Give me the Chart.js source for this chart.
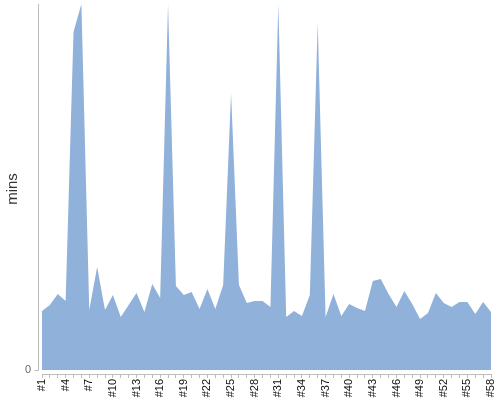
<!DOCTYPE html>
<html>
<head>
<meta charset="utf-8">
<script src="https://cdn.jsdelivr.net/npm/chart.js@4/dist/chart.umd.min.js"></script>
<style>
  html, body { margin: 0; padding: 0; background: #fff; }
  #wrap { width: 500px; height: 400px; }
</style>
</head>
<body>
<div id="wrap"><canvas id="minsChart"></canvas></div>
<script>
const runLabels = [
    '#1', '#2', '#3', '#4', '#5', '#6', '#7', '#8', '#9', '#10',
    '#11', '#12', '#13', '#14', '#15', '#16', '#17', '#18', '#19', '#20',
    '#21', '#22', '#23', '#24', '#25', '#26', '#27', '#28', '#29', '#30',
    '#31', '#32', '#33', '#34', '#35', '#36', '#37', '#38', '#39', '#40',
    '#41', '#42', '#43', '#44', '#45', '#46', '#47', '#48', '#49', '#50',
    '#51', '#52', '#53', '#54', '#55', '#56', '#57', '#58',
];

const minsValues = [
    29.5, 32.5, 38, 34.5, 169, 183, 30, 51.5, 30, 37.5,
    26.5, 32.5, 38.5, 29, 43, 36, 183, 42, 37.5, 39,
    30.5, 40.5, 30.5, 42.5, 138.5, 42.5, 33.5, 34.5, 34.5, 31.5,
    183, 26.5, 29.5, 27, 37.5, 173.5, 26.5, 38, 27, 33,
    31, 29.5, 44.5, 45.5, 38, 31.5, 39.5, 33, 25.5, 28.5,
    38.5, 33.5, 31.5, 34, 34, 28, 34, 29,
];

const yTickValues = [0];
const yTitle = 'mins';

const FONT = '"Liberation Sans", Arial, sans-serif';
const AXIS_GREY = '#bdbdbd';

// y axis line sits a few px left of the first point, drawn by hand
const yAxisLine = {
    id: 'yAxisLine',
    afterDraw(chart) {
        const { ctx, chartArea } = chart;
        const y0 = Math.round(chart.scales.y.getPixelForValue(0)) + 0.5;
        const x = Math.round(chartArea.left - 4) + 0.5;
        ctx.save();
        ctx.strokeStyle = AXIS_GREY;
        ctx.lineWidth = 1;
        ctx.beginPath();
        ctx.moveTo(x, chartArea.top);
        ctx.lineTo(x, y0);
        ctx.moveTo(x - 4, y0);
        ctx.lineTo(x, y0);
        ctx.stroke();
        ctx.restore();
    },
};

new Chart(document.getElementById('minsChart').getContext('2d'), {
    type: 'line',
    data: {
        labels: runLabels,
        datasets: [{
            data: minsValues,
            fill: 'origin',
            backgroundColor: 'rgb(143, 177, 218)',
            borderWidth: 0,
            pointRadius: 0,
            tension: 0,
        }],
    },
    options: {
        responsive: true,
        maintainAspectRatio: false,
        animation: false,
        layout: { padding: { top: 4, right: 9, left: 0, bottom: 0 } },
        plugins: {
            legend: { display: false },
            tooltip: { enabled: false },
        },
        scales: {
            x: {
                offset: false,
                grid: {
                    drawOnChartArea: false,
                    drawTicks: true,
                    tickLength: 4,
                    color: AXIS_GREY,
                },
                border: { display: true, color: AXIS_GREY },
                ticks: {
                    autoSkip: false,
                    minRotation: 90,
                    maxRotation: 90,
                    padding: 1,
                    color: '#111',
                    font: { family: FONT, size: 11 },
                    callback: (v, i) => (i % 3 === 0 ? runLabels[i] : ''),
                },
                afterFit: (scale) => {
                    scale.height = 26;
                    scale.paddingLeft = 0;
                    scale.paddingRight = 0;
                    scale.paddingTop = 0;
                    scale.paddingBottom = 0;
                },
            },
            y: {
                min: -2,
                max: 183,
                grid: { display: false, drawTicks: false },
                border: { display: false },
                afterBuildTicks: (scale) => {
                    scale.ticks = yTickValues.map((v) => ({ value: v }));
                },
                ticks: {
                    padding: 11,
                    color: '#666',
                    font: { family: FONT, size: 11 },
                },
                title: {
                    display: true,
                    text: yTitle,
                    color: '#333',
                    font: { family: FONT, size: 15 },
                    padding: 4,
                },
                afterFit: (scale) => {
                    scale.width = 42;
                    scale.paddingTop = 0;
                    scale.paddingBottom = 0;
                    scale.paddingLeft = 0;
                    scale.paddingRight = 0;
                },
            },
        },
    },
    plugins: [yAxisLine],
});
</script>
</body>
</html>
